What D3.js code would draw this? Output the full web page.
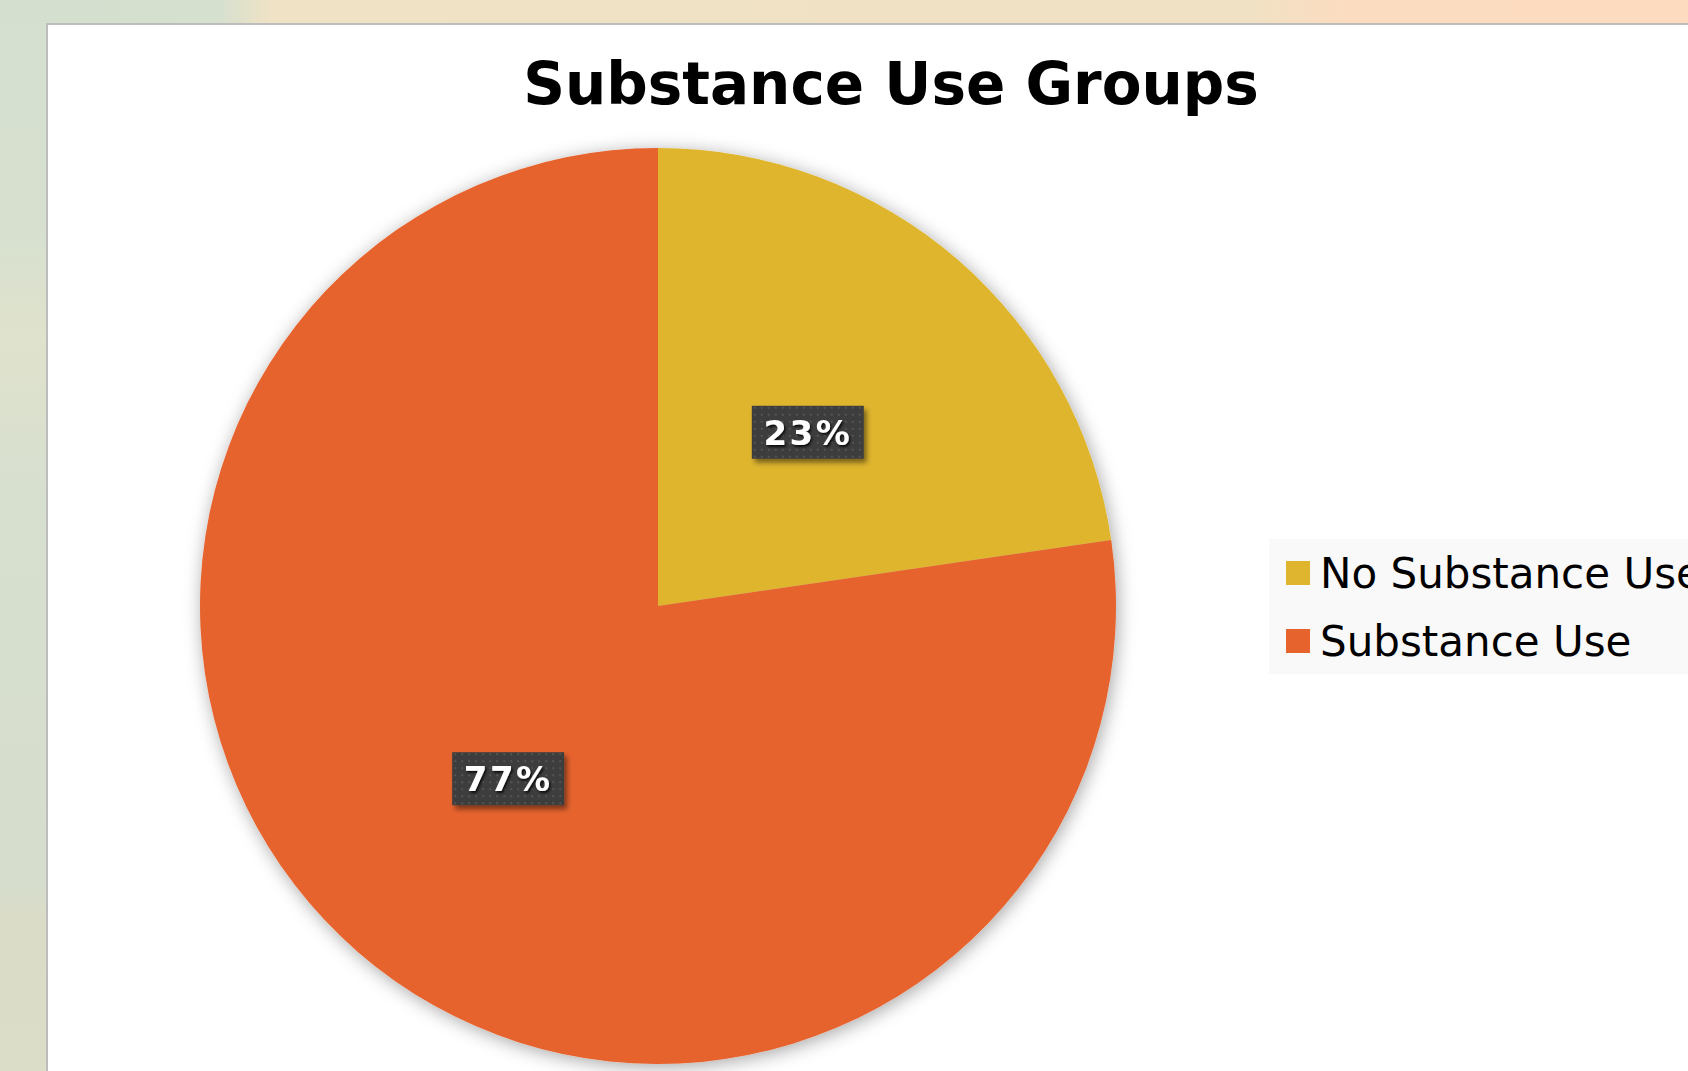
<!DOCTYPE html>
<html>
<head>
<meta charset="utf-8">
<script src="https://cdn.jsdelivr.net/npm/d3@7"></script>
<style>
  html, body { margin: 0; padding: 0; overflow: hidden; }
  body { width: 1688px; height: 1071px; }
  svg { display: block; }
</style>
</head>
<body>
<svg id="chart" width="1688" height="1071"></svg>
<script>
// ---- data ----
const categories = ["No Substance Use", "Substance Use"];
const values = [22.7, 77.3];
const pctLabels = ["23%", "77%"];
const colors = ["#DFB52F", "#E6632E"];
const title = "Substance Use Groups";

const W = 1688, H = 1071;
const svg = d3.select("#chart");
const defs = svg.append("defs");

// background gradients
const bg = defs.append("linearGradient").attr("id", "bgH").attr("x1", "0").attr("x2", "1").attr("y1", "0").attr("y2", "0");
[["0%", "#d5dfcf"], ["13%", "#d6e0cf"], ["16%", "#efe2c5"], ["74%", "#f1e1c4"], ["80%", "#fcdcc0"], ["100%", "#fcdbbf"]]
  .forEach(([o, c]) => bg.append("stop").attr("offset", o).attr("stop-color", c));
const bgV = defs.append("linearGradient").attr("id", "bgV").attr("x1", "0").attr("x2", "0").attr("y1", "0").attr("y2", "1");
[["0%", "#d6e0d0"], ["20%", "#d7e0cf"], ["30%", "#dfe2cc"], ["45%", "#d7dfcf"], ["82%", "#d6ddcd"], ["86%", "#dbdcc7"], ["100%", "#dbddc8"]]
  .forEach(([o, c]) => bgV.append("stop").attr("offset", o).attr("stop-color", c));

svg.append("rect").attr("width", W).attr("height", H).attr("fill", "url(#bgH)");
svg.append("rect").attr("x", 0).attr("y", 23).attr("width", 47).attr("height", H - 23).attr("fill", "url(#bgV)");

// panel
svg.append("rect").attr("x", 47).attr("y", 24).attr("width", W).attr("height", H)
  .attr("fill", "#ffffff").attr("stroke", "#bdbdbd").attr("stroke-width", 2);

// filters
const pieShadow = defs.append("filter").attr("id", "pieShadow").attr("x", "-20%").attr("y", "-20%").attr("width", "140%").attr("height", "140%");
pieShadow.append("feDropShadow").attr("dx", 2).attr("dy", 3).attr("stdDeviation", 9).attr("flood-color", "#000").attr("flood-opacity", 0.35);

const boxShadow = defs.append("filter").attr("id", "boxShadow").attr("x", "-20%").attr("y", "-30%").attr("width", "150%").attr("height", "170%");
boxShadow.append("feDropShadow").attr("dx", 3).attr("dy", 4).attr("stdDeviation", 2.5).attr("flood-color", "#000").attr("flood-opacity", 0.45);

const txtShadow = defs.append("filter").attr("id", "txtShadow").attr("x", "-20%").attr("y", "-30%").attr("width", "150%").attr("height", "170%");
txtShadow.append("feDropShadow").attr("dx", 1.5).attr("dy", 2).attr("stdDeviation", 1.2).attr("flood-color", "#000").attr("flood-opacity", 0.8);

const pat = defs.append("pattern").attr("id", "dots").attr("patternUnits", "userSpaceOnUse").attr("width", 7).attr("height", 7);
pat.append("rect").attr("width", 7).attr("height", 7).attr("fill", "#3e3e3e");
pat.append("rect").attr("x", 2).attr("y", 2).attr("width", 2).attr("height", 2).attr("fill", "#535353");

// title
svg.append("text").attr("x", 891).attr("y", 104).attr("text-anchor", "middle")
  .attr("font-family", "DejaVu Sans, Verdana, sans-serif").attr("font-weight", "bold")
  .attr("font-size", 58).attr("fill", "#000").text(title);

// pie
const cx = 658, cy = 606, R = 458;
const pie = d3.pie().sort(null).value(d => d)(values);
const arc = d3.arc().innerRadius(0).outerRadius(R);
const labelArc = d3.arc().innerRadius(R * 0.5).outerRadius(R * 0.5);

const g = svg.append("g").attr("transform", `translate(${cx},${cy})`);
g.append("g").attr("filter", "url(#pieShadow)")
  .selectAll("path").data(pie).join("path")
  .attr("d", arc).attr("fill", (d, i) => colors[i]);

const lbl = g.selectAll("g.lbl").data(pie).join("g").attr("class", "lbl")
  .attr("transform", d => `translate(${labelArc.centroid(d)})`);
lbl.append("rect").attr("x", -56).attr("y", -27).attr("width", 112).attr("height", 53)
  .attr("fill", "url(#dots)").attr("filter", "url(#boxShadow)");
lbl.append("text").attr("text-anchor", "middle").attr("y", 12)
  .attr("font-family", "DejaVu Sans, Verdana, sans-serif").attr("font-weight", "bold")
  .attr("font-size", 34).attr("letter-spacing", 2.5).attr("fill", "#fff")
  .attr("filter", "url(#txtShadow)")
  .text((d, i) => pctLabels[i]);

// legend
const lg = svg.append("g");
lg.append("rect").attr("x", 1269).attr("y", 539).attr("width", 500).attr("height", 135).attr("fill", "#f9f9f9");
const items = lg.selectAll("g.item").data(categories).join("g").attr("class", "item")
  .attr("transform", (d, i) => `translate(1286, ${561 + i * 68})`);
items.append("rect").attr("width", 24).attr("height", 24).attr("fill", (d, i) => colors[i]);
items.append("text").attr("x", 34).attr("y", 27)
  .attr("font-family", "DejaVu Sans, Verdana, sans-serif").attr("font-size", 42).attr("fill", "#000")
  .text(d => d);
</script>
</body>
</html>
